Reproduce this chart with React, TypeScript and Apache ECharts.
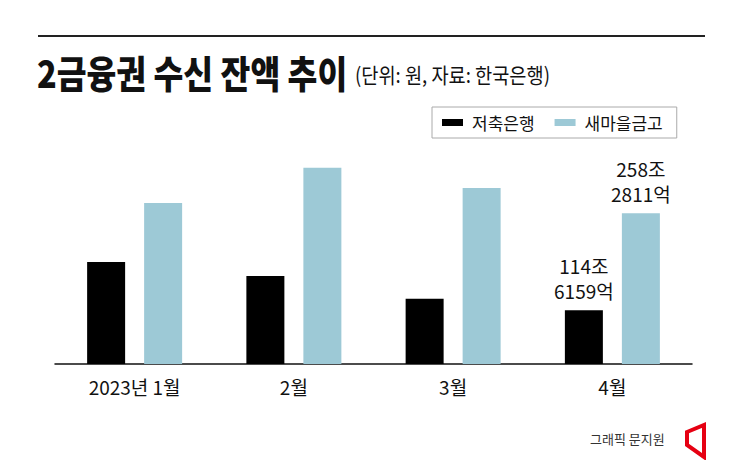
import React, { useEffect, useRef } from "react";
import * as echarts from "echarts";

const categories = ["2023년 1월", "2월", "3월", "4월"];
const savingsBank = [186, 165.5, 131.5, 114.6];
const saemaul = [273.5, 325.5, 295.5, 258.3];
const seriesNames = ["저축은행", "새마을금고"];
const lastLabels = ["114조\n6159억", "258조\n2811억"];

const FONT = "'Noto Sans CJK KR', 'Noto Sans', sans-serif";
const BLUE = "#9dc9d6";

export default function App() {
  const ref = useRef<HTMLDivElement>(null);
  useEffect(() => {
    if (!ref.current) return;
    const chart = echarts.init(ref.current, undefined, { renderer: "svg" });
    const mk = (vals: number[], idx: number) =>
      vals.map((v, i) =>
        i === vals.length - 1
          ? {
              value: v,
              label: {
                show: true,
                position: "top",
                distance: 7,
                formatter: lastLabels[idx],
                fontFamily: FONT,
                fontSize: 19,
                lineHeight: 25,
                color: "#111",
              },
            }
          : v
      );
    chart.setOption({
      animation: false,
      backgroundColor: "#fff",
      textStyle: { fontFamily: FONT },
      grid: { left: 55, right: 53, top: 100, bottom: 96, containLabel: false },
      legend: {
        left: 432,
        top: 107,
        data: seriesNames,
        icon: "rect",
        itemWidth: 21,
        itemHeight: 7,
        itemGap: 20,
        borderColor: "#aaa",
        borderWidth: 1,
        borderRadius: 0,
        padding: [7, 14, 7, 10],
        textStyle: { fontFamily: FONT, fontSize: 17, color: "#111", padding: [0, 0, 0, 4] },
      },
      xAxis: {
        type: "category",
        data: categories,
        axisTick: { show: false },
        axisLine: { lineStyle: { color: "#111", width: 1.5 } },
        axisLabel: { fontFamily: FONT, fontSize: 19, color: "#111", margin: 13 },
      },
      yAxis: { type: "value", min: 35, max: 426, show: false, splitLine: { show: false } },
      series: [
        {
          name: seriesNames[0],
          type: "bar",
          data: mk(savingsBank, 0),
          barWidth: 38,
          barGap: "50%",
          itemStyle: { color: "#000" },
        },
        {
          name: seriesNames[1],
          type: "bar",
          data: mk(saemaul, 1),
          barWidth: 38,
          itemStyle: { color: BLUE },
        },
      ],
      graphic: [
        { type: "line", shape: { x1: 38, y1: 36, x2: 705, y2: 36 }, style: { stroke: "#222", lineWidth: 2 } },
        {
          type: "text",
          x: 37,
          y: 71,
          scaleX: 0.853,
          style: { text: "2금융권 수신 잔액 추이", fontFamily: FONT, fontSize: 38, fontWeight: 900, fill: "#111", verticalAlign: "middle" },
        },
        {
          type: "text",
          x: 355,
          y: 74,
          scaleX: 0.888,
          style: { text: "(단위: 원, 자료: 한국은행)", fontFamily: FONT, fontSize: 21, fill: "#111", verticalAlign: "middle" },
        },
        {
          type: "text",
          x: 590,
          y: 438,
          style: { text: "그래픽 문지원", fontFamily: FONT, fontSize: 13, fill: "#333", verticalAlign: "middle" },
        },
        {
          type: "polygon",
          shape: { points: [[687, 432], [704, 425], [704, 457], [687, 445]] },
          style: { fill: "#fff", stroke: "#e60012", lineWidth: 4, lineJoin: "miter" },
        },
      ],
    });
    return () => chart.dispose();
  }, []);
  return <div ref={ref} style={{ width: 745, height: 460, position: "absolute", left: 0, top: 0 }} />;
}
